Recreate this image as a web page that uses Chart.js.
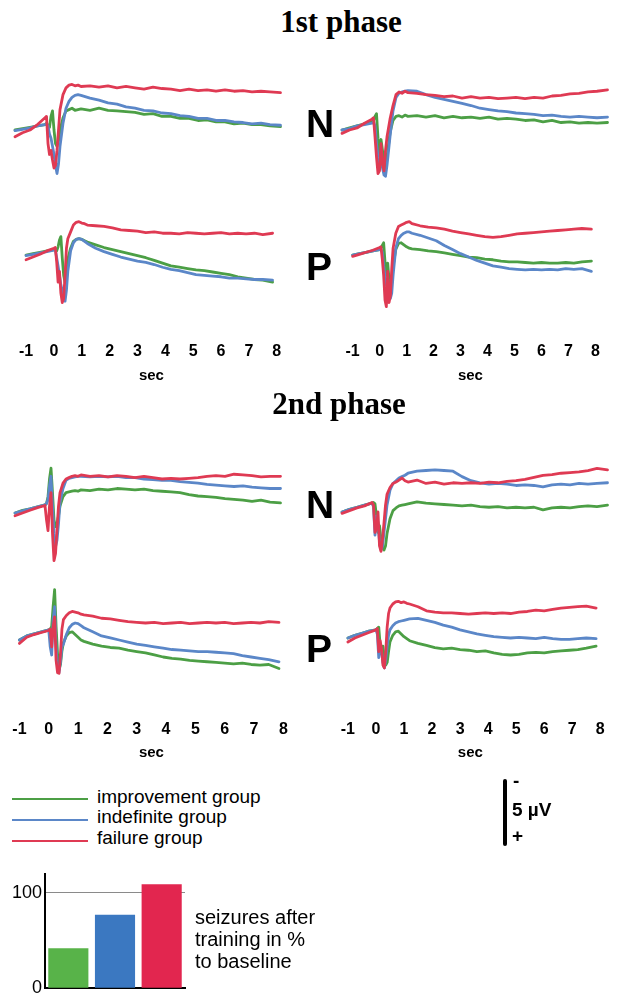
<!DOCTYPE html>
<html>
<head>
<meta charset="utf-8">
<script src="https://cdn.jsdelivr.net/npm/chart.js@4.4.1/dist/chart.umd.min.js"></script>
<style>
html,body{margin:0;padding:0;background:#fff;}
body{width:619px;height:1002px;position:relative;overflow:hidden;font-family:"Liberation Sans",Arial,sans-serif;}
canvas{position:absolute;}
.t{position:absolute;white-space:nowrap;color:#000;}
.ln{position:absolute;height:2px;}
</style>
</head>
<body>
<script>
// ---------------- DATA ----------------
// time (s) of each sample
const TIME_S = [-1,-0.75,-0.5,-0.25,0,0.05,0.1,0.15,0.2,0.25,0.3,0.35,0.4,0.45,0.5,0.6,0.7,0.8,0.9,1.0,1.1,1.2,1.5,1.8,2.1,2.4,2.7,3.0,3.3,3.6,3.9,4.2,4.5,4.8,5.1,5.4,5.7,6.0,6.3,6.6,6.9,7.2,7.5,7.85];
const TICK_SECONDS = [-1,0,1,2,3,4,5,6,7,8];

// amplitudes in µV (negative = up, as in the scale bar)
// 1st phase, left column, N
const p1_left_N_improvement = [0.0,-0.1,-0.2,-0.3,-0.4, -0.5,-0.3,-0.2,-1.0,-1.4, 0.0,1.0,1.2,0.8,0.0, -0.9,-1.4,-1.5,-1.6,-1.45,-1.5,-1.55, -1.45,-1.6,-1.45,-1.4,-1.35,-1.3,-1.15,-1.2,-1.0,-1.0,-0.85,-0.85,-0.7,-0.75,-0.6,-0.6,-0.45,-0.5,-0.4,-0.4,-0.3,-0.25];
const p1_left_N_indefinite = [0.05,-0.05,-0.15,-0.3,-0.4, -0.45,-0.3,0.3,0.6,1.2, 1.8,2.6,3.2,2.5,1.2, -0.5,-1.6,-2.1,-2.4,-2.55,-2.6,-2.55, -2.35,-2.2,-2.0,-1.9,-1.7,-1.6,-1.45,-1.4,-1.25,-1.2,-1.05,-1.0,-0.85,-0.85,-0.7,-0.7,-0.6,-0.55,-0.45,-0.5,-0.4,-0.35];
const p1_left_N_failure = [0.5,0.2,0.0,-0.4,-0.9, -1.0,1.0,1.8,1.5,2.2, 2.8,2.6,1.5,0.0,-1.5, -2.6,-3.1,-3.3,-3.35,-3.25,-3.3,-3.2, -3.25,-3.15,-3.25,-3.1,-3.2,-3.1,-3.0,-3.15,-3.05,-3.0,-2.9,-3.0,-2.9,-2.95,-2.85,-2.95,-2.85,-2.9,-2.8,-2.85,-2.8,-2.75];
// 1st phase, right column, N
const p1_right_N_improvement = [0.0,-0.15,-0.3,-0.45,-0.6, -0.7,-1.0,-1.2,0.6,1.8, 0.7,1.5,2.6,2.9,2.0, 0.2,-0.7,-1.0,-1.05,-0.95,-1.1,-1.0, -1.05,-0.95,-1.05,-0.9,-1.0,-0.9,-0.95,-0.85,-0.95,-0.8,-0.85,-0.8,-0.7,-0.75,-0.6,-0.7,-0.55,-0.6,-0.5,-0.55,-0.5,-0.55];
const p1_right_N_indefinite = [0.0,-0.1,-0.3,-0.4,-0.5, -0.6,-0.3,1.0,2.0,2.6, 2.2,2.8,3.3,3.4,2.6, 0.5,-1.4,-2.4,-2.7,-2.8,-2.85,-2.9, -2.85,-2.6,-2.4,-2.25,-2.1,-1.95,-1.8,-1.6,-1.5,-1.4,-1.35,-1.25,-1.2,-1.15,-1.05,-1.1,-1.0,-0.95,-1.0,-0.95,-0.9,-0.95];
const p1_right_N_failure = [0.25,0.0,-0.15,-0.5,-0.8, -0.9,0.5,2.0,3.2,3.0, 1.0,2.5,3.0,1.5,0.5, -0.8,-1.8,-2.6,-2.8,-2.7,-2.85,-2.75, -2.7,-2.6,-2.55,-2.45,-2.5,-2.35,-2.45,-2.35,-2.4,-2.3,-2.35,-2.4,-2.3,-2.4,-2.35,-2.5,-2.55,-2.65,-2.7,-2.8,-2.85,-2.95];
// 1st phase, left column, P
const p1_left_P_improvement = [0.0,-0.1,-0.2,-0.3,-0.4, -0.45,-0.3,-0.6,-1.1,-1.35, 0.2,1.5,2.0,1.2,0.3, -0.5,-1.0,-1.15,-1.2,-1.15,-1.05,-0.95, -0.75,-0.55,-0.4,-0.25,-0.1,0.05,0.2,0.4,0.6,0.8,0.9,1.0,1.1,1.15,1.25,1.35,1.45,1.6,1.7,1.8,1.85,2.0];
const p1_left_P_indefinite = [0.05,-0.05,-0.15,-0.25,-0.35, -0.4,0.2,0.8,1.5,2.2, 2.6,3.0,3.4,2.6,1.2, -0.3,-0.9,-1.15,-1.2,-1.15,-1.0,-0.85, -0.5,-0.25,-0.05,0.15,0.3,0.45,0.55,0.7,0.9,1.05,1.15,1.3,1.45,1.5,1.55,1.6,1.7,1.7,1.75,1.8,1.8,1.85];
const p1_left_P_failure = [0.35,0.15,-0.05,-0.3,-0.5, -0.55,0.5,2.0,1.2,2.8, 3.5,3.2,1.5,-0.5,-1.2, -1.7,-2.2,-2.4,-2.45,-2.35,-2.3,-2.2, -2.15,-2.1,-2.0,-1.85,-1.8,-1.75,-1.65,-1.7,-1.6,-1.6,-1.55,-1.65,-1.6,-1.55,-1.6,-1.65,-1.55,-1.6,-1.55,-1.6,-1.5,-1.6];
// 1st phase, right column, P
const p1_right_P_improvement = [0.0,-0.1,-0.2,-0.3,-0.4, -0.5,-0.7,-0.9,0.5,1.5, 0.6,1.8,2.5,2.0,0.8, -0.4,-0.85,-0.9,-0.75,-0.6,-0.5,-0.45, -0.4,-0.3,-0.25,-0.15,-0.05,0.05,0.15,0.2,0.3,0.35,0.45,0.5,0.5,0.55,0.6,0.55,0.6,0.6,0.55,0.6,0.5,0.45];
const p1_right_P_indefinite = [0.0,-0.1,-0.2,-0.3,-0.4, -0.45,-0.2,0.8,1.6,2.2, 2.0,2.7,3.2,2.8,1.5, -0.5,-1.2,-1.45,-1.6,-1.7,-1.7,-1.6, -1.45,-1.25,-1.05,-0.7,-0.4,-0.1,0.15,0.4,0.6,0.8,0.9,1.0,1.05,1.1,1.05,1.1,1.05,1.1,1.0,1.05,1.0,1.2];
const p1_right_P_failure = [0.1,-0.05,-0.2,-0.35,-0.55, -0.6,0.3,1.5,3.3,3.8, 1.2,3.5,3.0,1.0,-0.5, -1.6,-2.1,-2.2,-2.3,-2.4,-2.45,-2.3, -2.15,-2.05,-2.0,-1.9,-1.75,-1.65,-1.55,-1.45,-1.35,-1.3,-1.35,-1.45,-1.55,-1.6,-1.65,-1.7,-1.75,-1.8,-1.85,-1.9,-1.95,-1.9];
// 2nd phase, left column, N
const p2_left_N_improvement = [0.0,-0.2,-0.3,-0.45,-0.6, -0.7,-1.2,-2.5,-3.3,-1.5, 0.5,1.0,0.8,0.2,-0.5, -1.2,-1.5,-1.55,-1.6,-1.65,-1.6,-1.7, -1.65,-1.75,-1.7,-1.8,-1.75,-1.7,-1.75,-1.65,-1.6,-1.55,-1.5,-1.35,-1.25,-1.2,-1.15,-1.05,-1.0,-0.95,-0.85,-0.95,-0.8,-0.75];
const p2_left_N_indefinite = [0.0,-0.15,-0.3,-0.45,-0.6, -0.7,-1.0,-2.0,-2.7,-0.5, 1.5,2.5,2.0,0.8,-0.8, -1.8,-2.4,-2.55,-2.6,-2.65,-2.7,-2.7, -2.65,-2.7,-2.65,-2.7,-2.6,-2.6,-2.5,-2.45,-2.4,-2.4,-2.3,-2.25,-2.2,-2.1,-2.05,-2.0,-1.95,-2.0,-1.9,-1.85,-1.8,-1.8];
const p2_left_N_failure = [0.2,0.0,-0.2,-0.4,-0.55, 0.5,1.3,-0.5,-1.5,1.5, 3.5,3.0,1.2,-0.5,-1.5, -2.2,-2.5,-2.6,-2.7,-2.75,-2.7,-2.8, -2.7,-2.75,-2.65,-2.75,-2.7,-2.6,-2.7,-2.6,-2.5,-2.55,-2.5,-2.55,-2.6,-2.7,-2.75,-2.7,-2.85,-2.8,-2.75,-2.65,-2.7,-2.7];
// 2nd phase, right column, N
const p2_right_N_improvement = [0.0,-0.2,-0.35,-0.5,-0.65, -0.7,-0.6,0.3,1.5,1.0, 2.0,2.6,2.8,2.5,1.6, 0.5,-0.1,-0.3,-0.45,-0.5,-0.55,-0.6, -0.75,-0.65,-0.6,-0.55,-0.5,-0.45,-0.5,-0.4,-0.35,-0.4,-0.3,-0.35,-0.3,-0.35,-0.15,-0.3,-0.35,-0.3,-0.4,-0.45,-0.4,-0.5];
const p2_right_N_indefinite = [0.0,-0.2,-0.35,-0.5,-0.65, -0.4,1.7,0.3,0.8,2.2, 2.8,2.5,1.5,0.5,-0.5, -1.6,-2.1,-2.3,-2.5,-2.6,-2.7,-2.85, -3.0,-3.05,-3.1,-3.05,-3.0,-2.6,-2.3,-2.15,-2.05,-2.1,-2.05,-1.95,-2.0,-1.95,-1.85,-2.0,-2.05,-2.0,-2.1,-2.05,-2.1,-2.15];
const p2_right_N_failure = [0.1,-0.1,-0.3,-0.45,-0.7, -0.5,1.5,1.2,0.0,2.5, 2.9,2.0,0.8,-0.5,-1.3, -1.8,-2.1,-2.2,-2.35,-2.5,-2.3,-2.2, -2.35,-2.1,-2.2,-2.05,-2.15,-2.1,-2.15,-2.1,-2.2,-2.15,-2.25,-2.3,-2.4,-2.55,-2.7,-2.75,-2.85,-2.9,-2.95,-3.05,-3.2,-3.1];
// 2nd phase, left column, P
const p2_left_P_improvement = [0.0,-0.3,-0.45,-0.6,-0.75, -0.8,-1.0,-2.5,-3.7,-1.0, 1.0,2.2,1.8,0.8,0.2, -0.3,-0.55,-0.6,-0.4,-0.2,0.0,0.1, 0.3,0.45,0.55,0.6,0.75,0.85,0.95,1.1,1.25,1.35,1.4,1.5,1.55,1.6,1.65,1.7,1.75,1.7,1.8,1.85,1.8,2.1];
const p2_left_P_indefinite = [0.0,-0.3,-0.45,-0.6,-0.75, 0.5,1.1,-1.5,-2.45,0.5, 2.0,2.4,1.6,0.5,0.3, -0.4,-0.9,-1.15,-1.25,-1.2,-1.05,-0.9, -0.6,-0.3,-0.15,0.0,0.15,0.3,0.4,0.5,0.6,0.7,0.75,0.8,0.85,0.85,0.9,0.95,1.0,1.15,1.25,1.35,1.45,1.6];
const p2_left_P_failure = [0.25,-0.2,-0.4,-0.55,-0.7, -0.8,0.5,-1.0,-1.7,1.5, 2.4,2.45,1.0,-0.8,-1.5, -1.8,-2.0,-2.1,-2.05,-2.0,-1.9,-1.85, -1.75,-1.6,-1.55,-1.45,-1.35,-1.3,-1.25,-1.3,-1.2,-1.25,-1.3,-1.2,-1.25,-1.3,-1.25,-1.3,-1.2,-1.25,-1.3,-1.25,-1.35,-1.3];
// 2nd phase, right column, P
const p2_right_P_improvement = [0.0,-0.2,-0.35,-0.5,-0.6, -0.7,-0.8,0.5,1.0,0.6, 1.5,2.0,1.8,1.0,0.3, -0.2,-0.45,-0.5,-0.3,-0.1,0.05,0.2, 0.4,0.55,0.7,0.8,0.75,0.85,0.9,1.0,0.95,1.1,1.2,1.25,1.2,1.1,1.05,1.1,1.0,0.95,0.9,0.85,0.75,0.6];
const p2_right_P_indefinite = [0.0,-0.2,-0.35,-0.5,-0.6, -0.3,1.45,0.5,1.0,1.8, 2.2,1.6,0.6,-0.2,-0.6, -0.9,-1.1,-1.2,-1.25,-1.3,-1.35,-1.4, -1.45,-1.3,-1.15,-0.95,-0.8,-0.6,-0.45,-0.3,-0.2,-0.1,-0.05,0.0,-0.05,0.0,0.05,-0.05,0.05,0.1,0.1,0.05,0.0,0.05];
const p2_right_P_failure = [0.3,0.0,-0.2,-0.4,-0.6, -0.7,1.0,0.2,0.8,2.0, 2.2,1.0,-0.8,-1.8,-2.2, -2.5,-2.65,-2.7,-2.6,-2.65,-2.55,-2.5, -2.3,-2.0,-1.9,-1.85,-1.85,-1.8,-1.75,-1.8,-1.85,-1.8,-1.85,-1.8,-1.9,-1.95,-2.05,-2.0,-2.1,-2.2,-2.25,-2.3,-2.35,-2.2];

// bar chart: seizures after training in % of baseline
const BAR_GROUPS = ['improvement group','indefinite group','failure group'];
const BAR_SEIZURE_PCT = [42, 77, 109];
const BAR_TICKS = [0, 100];

// ---------------- STYLE / LAYOUT ----------------
const C_GREEN = '#4c9f45', C_BLUE = '#5b87c8', C_RED = '#df3a53';
const BAR_COLORS = ['#58b349', '#3b78c1', '#e2264f'];
const HALF_UV = 5, HALF_PX = 68, AXIS_H = 72;
const TICK_FONT = 16, SEC_FONT = 15;
const COLS = {
  left:  {left: 0,   width: 300, xMin: -1.5, xMax: 8.5},
  right: {left: 327, width: 292, xMin: -1.5, xMax: 8.2333}
};

Chart.defaults.font.family = '"Liberation Sans", Arial, sans-serif';

function pts(vals){ return TIME_S.map((t,i)=>({x:t, y:vals[i]})); }

function trace(col, base, g, b, r, axis){
  const c = document.createElement('canvas');
  const h = HALF_PX*2 + (axis ? AXIS_H : 0);
  c.width = col.width; c.height = h;
  c.style.left = col.left + 'px'; c.style.top = (base - HALF_PX) + 'px';
  document.body.appendChild(c);
  const ds = (vals, color) => ({data: pts(vals), borderColor: color, backgroundColor: color,
      borderWidth: 2.8, pointRadius: 0, tension: 0, borderJoinStyle: 'round', borderCapStyle: 'round', fill: false});
  let tickPad = 10, titlePad = 10;
  if (axis) {
    const areaBottom = base + HALF_PX;
    tickPad = axis.tickY - areaBottom - TICK_FONT*1.2/2;
    titlePad = (areaBottom + AXIS_H) - axis.secY - SEC_FONT*1.2/2;
  }
  const xScale = {type: 'linear', min: col.xMin, max: col.xMax, display: !!axis,
      afterBuildTicks: s => { s.ticks = TICK_SECONDS.map(v => ({value: v})); },
      grid: {display: false, drawTicks: false}, border: {display: false},
      ticks: {padding: tickPad, autoSkip: false, maxRotation: 0, color: '#000',
              font: {size: TICK_FONT, weight: 'bold'}, callback: v => String(v)},
      title: {display: true, text: 'sec', color: '#000', font: {size: SEC_FONT, weight: 'bold'},
              padding: {top: 0, bottom: titlePad}}};
  if (axis) xScale.afterFit = s => { s.height = AXIS_H; };
  new Chart(c, {
    type: 'line',
    data: {datasets: [ds(r, C_RED), ds(b, C_BLUE), ds(g, C_GREEN)]},
    options: {
      responsive: false, animation: false, devicePixelRatio: 1,
      layout: {padding: 0},
      plugins: {legend: {display: false}, tooltip: {enabled: false}},
      scales: {
        x: xScale,
        y: {display: false, min: -HALF_UV, max: HALF_UV, reverse: true}
      }
    }
  });
}

// 1st phase
trace(COLS.left,  130, p1_left_N_improvement,  p1_left_N_indefinite,  p1_left_N_failure,  null);
trace(COLS.right, 130, p1_right_N_improvement, p1_right_N_indefinite, p1_right_N_failure, null);
trace(COLS.left,  255, p1_left_P_improvement,  p1_left_P_indefinite,  p1_left_P_failure,  {tickY: 352, secY: 376});
trace(COLS.right, 255, p1_right_P_improvement, p1_right_P_indefinite, p1_right_P_failure, {tickY: 352, secY: 376});
// 2nd phase
trace(COLS.left,  513, p2_left_N_improvement,  p2_left_N_indefinite,  p2_left_N_failure,  null);
trace(COLS.right, 512, p2_right_N_improvement, p2_right_N_indefinite, p2_right_N_failure, null);
trace(COLS.left,  640, p2_left_P_improvement,  p2_left_P_indefinite,  p2_left_P_failure,  {tickY: 730, secY: 753});
trace(COLS.right, 638, p2_right_P_improvement, p2_right_P_indefinite, p2_right_P_failure, {tickY: 730, secY: 753});

// bar chart
(function(){
  const c = document.createElement('canvas');
  c.width = 200; c.height = 142;
  c.style.left = '0px'; c.style.top = '860px';
  document.body.appendChild(c);
  new Chart(c, {
    type: 'bar',
    data: {labels: BAR_GROUPS, datasets: [{data: BAR_SEIZURE_PCT, backgroundColor: BAR_COLORS,
           borderWidth: 0, categoryPercentage: 1, barPercentage: 0.86}]},
    options: {
      responsive: false, animation: false, devicePixelRatio: 1,
      layout: {padding: {left: 0, right: 15, top: 13, bottom: 7}},
      plugins: {legend: {display: false}, tooltip: {enabled: false}},
      scales: {
        x: {grid: {display: false, drawTicks: false}, ticks: {display: false},
            border: {display: true, color: '#000', width: 2},
            afterFit: s => { s.height = 0; }},
        y: {min: 0, max: 120,
            afterBuildTicks: s => { s.ticks = BAR_TICKS.map(v => ({value: v})); },
            afterFit: s => { s.width = 45; },
            grid: {drawTicks: false, lineWidth: 1,
                   color: ctx => (ctx.tick && ctx.tick.value === 100) ? '#8a8a8a' : 'rgba(0,0,0,0)'},
            border: {display: true, color: '#000', width: 2},
            ticks: {padding: 3, color: '#000', font: {size: 18}}}
      }
    }
  });
})();

// ---------------- TEXT ----------------
function txt(s, x, baseline, size, o){
  o = o || {};
  const d = document.createElement('div');
  d.className = 't';
  d.textContent = s;
  const serif = !!o.serif;
  d.style.fontFamily = serif ? '"Liberation Serif","Times New Roman",serif' : '"Liberation Sans",Arial,sans-serif';
  d.style.fontWeight = o.bold ? 'bold' : 'normal';
  d.style.fontSize = size + 'px';
  d.style.lineHeight = size + 'px';
  const k = serif ? 0.8375 : 0.8465;
  d.style.top = (baseline - k*size) + 'px';
  if (o.center) { d.style.left = (x - 150) + 'px'; d.style.width = '300px'; d.style.textAlign = 'center'; }
  else d.style.left = x + 'px';
  document.body.appendChild(d);
}
txt('1st phase', 341, 32, 31, {serif: true, bold: true, center: true});
txt('2nd phase', 339, 414, 31, {serif: true, bold: true, center: true});
txt('N', 306, 137, 39, {bold: true});
txt('P', 306, 280, 39, {bold: true});
txt('N', 306, 518, 39, {bold: true});
txt('P', 306, 662, 39, {bold: true});

// legend
function legLine(y, color){
  const d = document.createElement('div');
  d.className = 'ln'; d.style.left = '12px'; d.style.width = '76px';
  d.style.top = y + 'px'; d.style.background = color;
  document.body.appendChild(d);
}
legLine(798, C_GREEN); legLine(819, C_BLUE); legLine(839.5, C_RED);
txt('improvement group', 97, 803, 19);
txt('indefinite group', 97, 823.5, 19);
txt('failure group', 97, 844, 19);

// scale bar
(function(){
  const d = document.createElement('div');
  d.style.position = 'absolute'; d.style.left = '503px'; d.style.top = '779px';
  d.style.width = '4px'; d.style.height = '67px'; d.style.background = '#000'; d.style.borderRadius = '2px';
  document.body.appendChild(d);
})();
txt('-', 513, 787, 19, {bold: true});
txt('5 µV', 512, 816, 19, {bold: true});
txt('+', 512, 842, 19, {bold: true});

// bar caption
txt('seizures after', 195, 924, 20);
txt('training in %', 195, 946, 20);
txt('to baseline', 195, 968, 20);
</script>
</body>
</html>
